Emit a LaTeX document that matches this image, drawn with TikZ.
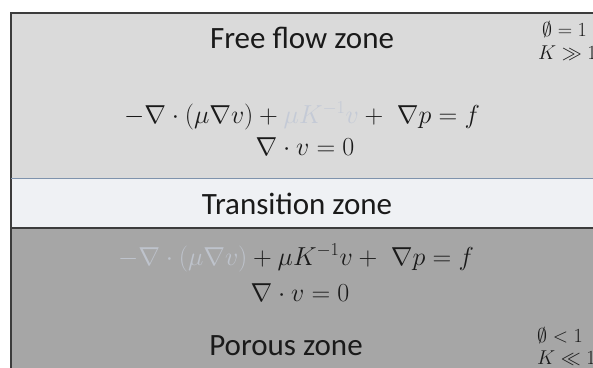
\documentclass[tikz,border=0pt]{standalone}
\usepackage{fix-cm}
\usepackage{amssymb}
\usepackage{fontspec}
\newfontfamily\calibri{Carlito}
\definecolor{ffgray}{HTML}{DADADA}
\definecolor{transfill}{HTML}{EFF1F4}
\definecolor{porgray}{HTML}{A6A6A6}
\definecolor{borderc}{HTML}{3C3C3C}
\definecolor{blueline}{HTML}{7F93AD}
\definecolor{fadeA}{HTML}{C4CAD6}
\definecolor{fadeB}{HTML}{BEC3CC}
\definecolor{textc}{HTML}{1A1A1A}
\begin{document}
\begin{tikzpicture}[x=1pt,y=-1pt,
  zonelabel/.style={inner sep=0pt, anchor=base, text=textc, font=\calibri\fontsize{31}{35}\selectfont},
  eqn/.style={inner sep=0pt, anchor=base, text=textc, font=\fontsize{26}{30}\selectfont},
  side/.style={inner sep=0pt, anchor=base west, text=textc, font=\fontsize{20}{22}\selectfont}]
\useasboundingbox (0,0) rectangle (593,367);
\fill[ffgray] (11,13) rectangle (600,178);
\fill[transfill] (11,178) rectangle (600,228);
\fill[porgray] (11,228) rectangle (600,380);
\draw[borderc, line width=1.5pt] (600,13) -- (11,13) -- (11,380);
\draw[blueline, line width=1pt] (11,178) -- (600,178);
\draw[borderc, line width=1.2pt] (11,228) -- (600,228);

\node[zonelabel] (free) at (302,48) {Free flow zone};
\node[side] (phiA) at (542,36) {$\emptyset=1$};
\node[side] (kA) at (538,59) {$K\gg1$};
\node[eqn] (eqA1) at (302,123) {$-\nabla\cdot(\mu\nabla v)+{\color{fadeA}\mu K^{-1}v}+\ \nabla p=f$};
\node[eqn] (eqA2) at (305,155) {$\nabla\cdot v=0$};

\node[zonelabel] (trans) at (297,214) {Transition zone};

\node[eqn] (eqB1) at (296,265) {${\color{fadeB}-\nabla\cdot(\mu\nabla v)}+\mu K^{-1}v+\ \nabla p=f$};
\node[eqn] (eqB2) at (300,301) {$\nabla\cdot v=0$};
\node[zonelabel] (porous) at (286,355) {Porous zone};
\node[side] (phiB) at (537,342) {$\emptyset<1$};
\node[side] (kB) at (537,364) {$K\ll1$};
\end{tikzpicture}
\end{document}
